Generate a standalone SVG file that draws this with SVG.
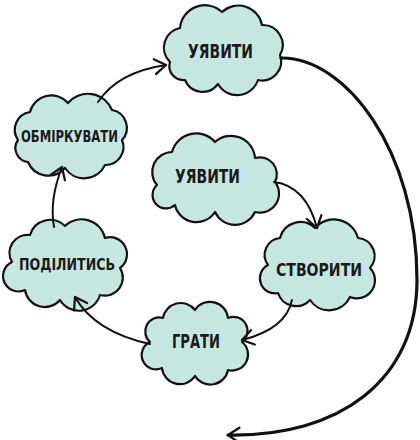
<svg xmlns="http://www.w3.org/2000/svg" width="420" height="440" viewBox="0 0 420 440">
<defs>
<style>
.cloud{fill:#c6e6e0;stroke:#111;stroke-width:2.2;stroke-linejoin:round}
.lbl{font-family:"Liberation Sans Narrow","DejaVu Sans Condensed","Liberation Sans",sans-serif;font-weight:bold;fill:#1a1a1a;text-anchor:start}
.edge{fill:none;stroke:#111;stroke-width:2;stroke-linecap:round}
.big{stroke-width:3.2}
</style>
<marker id="arr" markerUnits="userSpaceOnUse" markerWidth="20" markerHeight="20" viewBox="-12 -8 14 16" refX="0" refY="0" orient="auto">
<path d="M-9,-6 L0,0 L-9,6" fill="none" stroke="#111" stroke-width="1.8" stroke-linecap="round" stroke-linejoin="round"/>
</marker>
</defs>
<rect width="420" height="440" fill="#fff"/>
<g id="n-uyavyty-top">
<path class="cloud" d="M170,62 A20,20 0 0 1 180,28 A25,25 0 0 1 222,12 A24,24 0 0 1 262,25 A20,20 0 0 1 280,55 A19,19 0 0 1 258,80 A22,22 0 0 1 218,84 A19,19 0 0 1 185,80 A14,14 0 0 1 170,62 Z"/>
<text class="lbl" x="188" y="58" font-size="19" textLength="65" lengthAdjust="spacingAndGlyphs">УЯВИТИ</text>
</g>
<g id="n-obmirkuvaty">
<path class="cloud" d="M18,140 A18,18 0 0 1 30,112 A22,22 0 0 1 68,103 A26,26 0 0 1 112,110 A18,18 0 0 1 122,140 A18,18 0 0 1 105,165 A23,23 0 0 1 65,168 A22,22 0 0 1 28,162 A14,14 0 0 1 18,140 Z"/>
<text class="lbl" x="21" y="142" font-size="16" textLength="97" lengthAdjust="spacingAndGlyphs">ОБМІРКУВАТИ</text>
</g>
<g id="n-uyavyty-center">
<path class="cloud" d="M157,185 A20,20 0 0 1 172,152 A25,25 0 0 1 215,142 A24,24 0 0 1 255,158 A17,17 0 0 1 275,182 A19,19 0 0 1 255,212 A22,22 0 0 1 215,212 A22,22 0 0 1 175,205 A13,13 0 0 1 157,185 Z"/>
<text class="lbl" x="175" y="183" font-size="19" textLength="65" lengthAdjust="spacingAndGlyphs">УЯВИТИ</text>
</g>
<g id="n-stvoryty">
<path class="cloud" d="M268,265 A17,17 0 0 1 280,238 A21,21 0 0 1 315,228 A25,25 0 0 1 358,238 A18,18 0 0 1 370,268 A18,18 0 0 1 350,297 A23,23 0 0 1 310,300 A19,19 0 0 1 278,293 A15,15 0 0 1 268,265 Z"/>
<text class="lbl" x="276" y="276" font-size="18" textLength="86" lengthAdjust="spacingAndGlyphs">СТВОРИТИ</text>
</g>
<g id="n-podilytys">
<path class="cloud" d="M12,262 A18,18 0 0 1 30,235 A21,21 0 0 1 65,226 A24,24 0 0 1 105,238 A17,17 0 0 1 120,268 A18,18 0 0 1 100,295 A22,22 0 0 1 60,300 A20,20 0 0 1 25,290 A15,15 0 0 1 12,262 Z"/>
<text class="lbl" x="19" y="270" font-size="16" textLength="96" lengthAdjust="spacingAndGlyphs">ПОДІЛИТИСЬ</text>
</g>
<g id="n-hraty">
<path class="cloud" d="M150,342 A14,14 0 0 1 163,318 A18,18 0 0 1 195,310 A18,18 0 0 1 228,318 A14,14 0 0 1 242,342 A16,16 0 0 1 228,370 A18,18 0 0 1 195,376 A18,18 0 0 1 162,368 A14,14 0 0 1 150,342 Z"/>
<text class="lbl" x="172" y="348" font-size="19" textLength="48" lengthAdjust="spacingAndGlyphs">ГРАТИ</text>
</g>
<g id="connectors">
<path class="edge big" d="M281,58 C345,57 417,150 417,280 C417,380 340,437 228,435" marker-end="url(#arr)"/>
<path class="edge" d="M98,102 Q118,72 166,65" marker-end="url(#arr)"/>
<path class="edge" d="M54,227 C50,205 55,185 62,167" marker-end="url(#arr)"/>
<path class="edge" d="M150,344 Q95,332 75,297" marker-end="url(#arr)"/>
<path class="edge" d="M292,300 Q286,329 242,340" marker-end="url(#arr)"/>
<path class="edge" d="M274,182 Q306,186 317,228" marker-end="url(#arr)"/>
</g>
</svg>
